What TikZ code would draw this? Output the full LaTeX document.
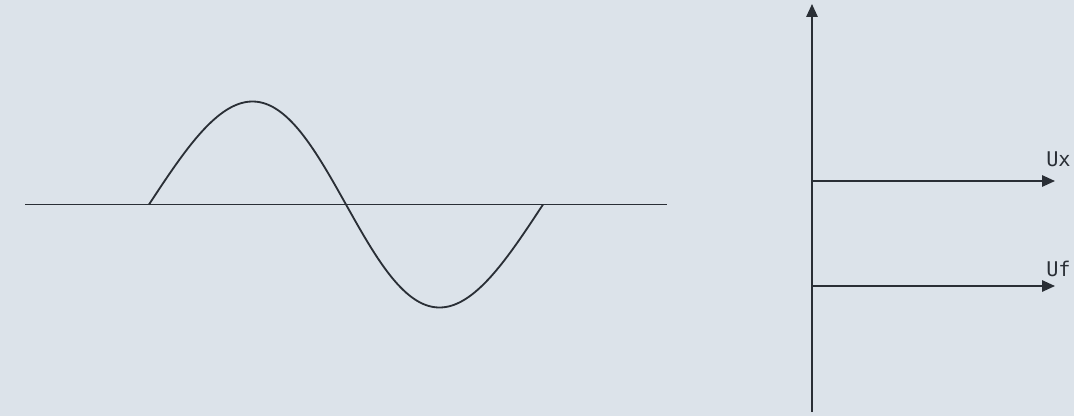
\documentclass[tikz,border=0pt]{standalone}
\usepackage{fontspec}
\setmonofont{DejaVu Sans Mono}
\usepackage{tikz}
\usetikzlibrary{arrows.meta}
\definecolor{bgcol}{HTML}{DCE3EA}
\definecolor{inkcol}{HTML}{2A2F36}

\begin{document}
\begin{tikzpicture}[x=0.025cm,y=-0.025cm,
			thin/.style={line width=1.3pt,draw=inkcol},
			wave/.style={smooth,samples=180,line width=1.3pt,draw=inkcol},
			axisarrow/.style={-{Triangle[length=3.2mm,width=2.8mm]},line width=1.3pt,draw=inkcol,fill=inkcol},
			lbl/.style={font=\ttfamily\Large,text=inkcol,inner sep=0pt,anchor=west},
			]
			% 背景
			\fill[bgcol] (0,0) rectangle (1074,416);
			\useasboundingbox (0,0) rectangle (1074,416);
			
			% 基线
			\coordinate (L0) at (25,204.5);
			\coordinate (L1) at (667,204.5);
			\draw[thin] (L0)--(L1);
			
			% 正弦波（峰略偏右，谷略偏左）
			\draw[wave,domain=0:360] plot ({149+\x/360*394+5*sin(\x)},{204.5-103*sin(\x)});
			
			% 纵轴
			\coordinate (O) at (812,412);
			\coordinate (T) at (812,4);
			\draw[axisarrow] (O)--(T);
			
			% Ux, Uf
			\coordinate (X0) at (812,181);
			\coordinate (X1) at (1055,181);
			\coordinate (F0) at (812,286);
			\coordinate (F1) at (1055,286);
			\draw[axisarrow] (X0)--(X1);
			\draw[axisarrow] (F0)--(F1);
			\node[lbl] (ux) at (1046,159) {Ux};
			\node[lbl] (uf) at (1046,269) {Uf};
		\end{tikzpicture}
\end{document}
